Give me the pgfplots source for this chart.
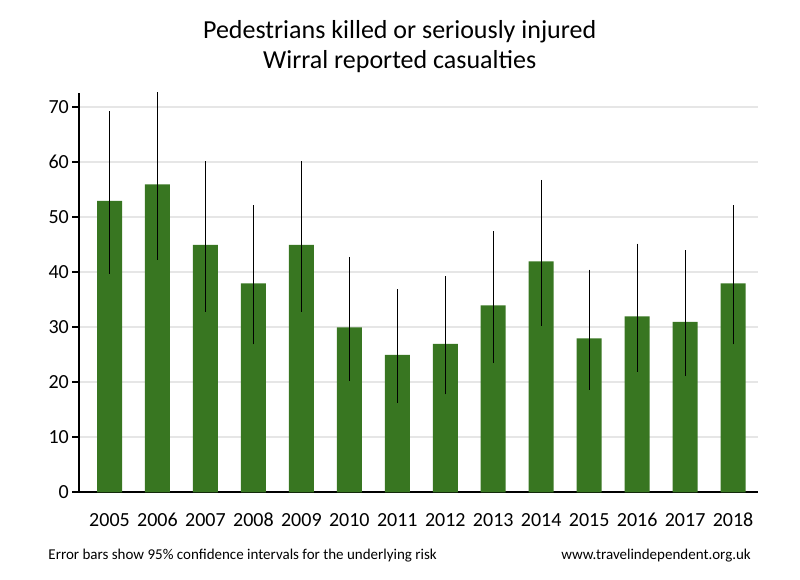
\documentclass[border=0pt]{standalone}
\usepackage{pgfplots}
\pgfplotsset{compat=1.18}
\usepackage{pgfplotstable}
\usepackage{fontspec}
\setmainfont{Carlito}
\definecolor{bargreen}{RGB}{56,118,33}
\definecolor{gridgray}{RGB}{230,230,230}

% year index, casualties, upper and lower 95% limits as offsets
\pgfplotstableread{
x  y   ep    em
0  53  16.3  13.3
1  56  16.7  13.7
2  45  15.2  12.2
3  38  14.2  11.1
4  45  15.2  12.2
5  30  12.8   9.8
6  25  11.9   8.8
7  27  12.3   9.2
8  34  13.5  10.5
9  42  14.8  11.7
10 28  12.5   9.4
11 32  13.2  10.1
12 31  13.0   9.9
13 38  14.2  11.1
}\kswi

\begin{document}
\begin{tikzpicture}[x=1bp,y=1bp]
\path[use as bounding box] (0,0) rectangle (800,580);
\begin{axis}[
    at={(79.3bp,87.7bp)}, anchor=south west,
    scale only axis,
    width=678.7bp, height=399.3bp,
    ybar, bar width=25bp,
    xmin=-0.63, xmax=13.52,
    ymin=0, ymax=72.6,
    xtick=data,
    xticklabels={2005,2006,2007,2008,2009,2010,2011,2012,2013,2014,2015,2016,2017,2018},
    ytick={0,10,...,70},
    axis x line*=bottom, axis y line*=left,
    axis line style={line width=2bp, black},
    x axis line style={shorten <=-7bp},
    tick align=outside,
    major tick length=7bp,
    xtick style={draw=none},
    ytick style={line width=2bp, black},
    ymajorgrids,
    grid style={draw=gridgray, line width=2bp},
    tick label style={font=\fontsize{20bp}{24bp}\selectfont},
    xticklabel style={anchor=base, yshift=-27bp},
    /pgf/number format/assume math mode=true,
]
\addplot[fill=bargreen, draw=none,
    error bars/.cd, y dir=both, y explicit, error mark=none,
    error bar style={line width=1bp, black}]
    table[x=x, y=y, y error plus=ep, y error minus=em] {\kswi};
\end{axis}
\node[anchor=base, inner sep=0, font=\fontsize{26bp}{30bp}\selectfont] at (399.7,541.7) {Pedestrians killed or seriously injured};
\node[anchor=base, inner sep=0, font=\fontsize{26bp}{30bp}\selectfont] at (399.7,511.7) {Wirral reported casualties};
\node[anchor=base west, inner sep=0, font=\fontsize{15bp}{18bp}\selectfont] at (48.3,20) {Error bars show 95\% confidence intervals for the underlying risk};
\node[anchor=base east, inner sep=0, font=\fontsize{15bp}{18bp}\selectfont] at (751,20) {www.travelindependent.org.uk};
\end{tikzpicture}
\end{document}
